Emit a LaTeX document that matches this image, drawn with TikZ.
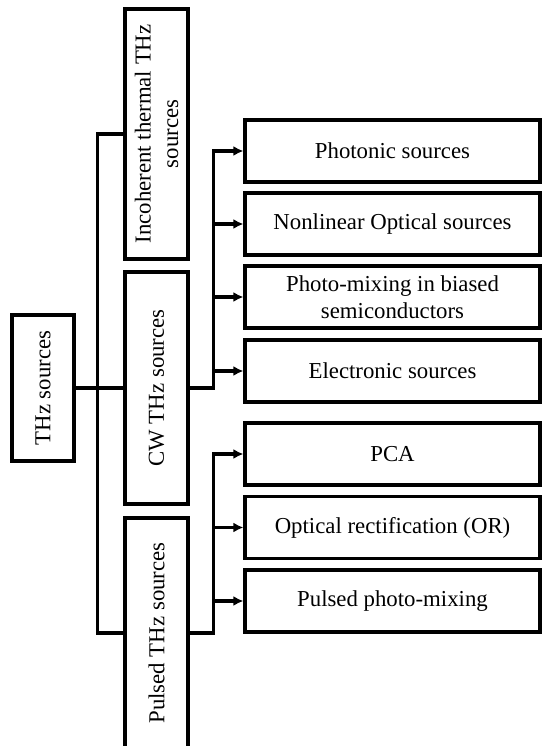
\documentclass[tikz,border=0pt]{standalone}
\usepackage{fontspec}
\setmainfont{Liberation Serif}
\usetikzlibrary{arrows.meta}

\tikzset{
    box/.style={draw, line width=3.2pt, inner sep=0pt, align=center,
        font=\fontsize{22.8}{27.5}\selectfont},
    sidebox/.style={box, rotate=90, minimum height=63pt},
    leafbox/.style={box, minimum width=295pt, minimum height=62pt},
    arr/.style={line width=3.2pt, -{Latex[length=10pt,width=10pt]}},
    link/.style={line width=3.2pt}
}

\begin{document}
\begin{tikzpicture}[x=1pt,y=-1pt]
    \useasboundingbox (0,0) rectangle (541,746);

    \node [sidebox, minimum width=146pt, minimum height=62pt] (thz) at (43,388) {THz sources};

    \node [sidebox, minimum width=250pt] (inc) at (156.5,134) {Incoherent thermal THz\\sources};
    \node [sidebox, minimum width=232pt] (cw) at (156.5,388) {CW THz sources};
    \node [sidebox, minimum width=230pt] (pul) at (156.5,633) {Pulsed THz sources};

    \node [leafbox] (pho) at (392.5,151) {Photonic sources};
    \node [leafbox] (nlo) at (392.5,224) {Nonlinear Optical sources};
    \node [leafbox] (pmx) at (392.5,297) {Photo-mixing in biased\\semiconductors};
    \node [leafbox] (ele) at (392.5,371) {Electronic sources};

    \node [leafbox] (pca) at (392.5,454) {PCA};
    \node [leafbox] (opr) at (392.5,527.5) {Optical rectification (OR)};
    \node [leafbox] (ppm) at (392.5,601) {Pulsed photo-mixing};

    \draw [link] (thz.south) -- (cw.north);
    \draw [link] (inc.north) -- ++(-26,0) |- (pul.north);

    \foreach \b in {pho,nlo,pmx,ele}
        \draw [arr] (cw.south) -- ++(24,0) |- (\b.west);
    \foreach \b in {pca,opr,ppm}
        \draw [arr] (pul.south) -- ++(24,0) |- (\b.west);
\end{tikzpicture}
\end{document}
